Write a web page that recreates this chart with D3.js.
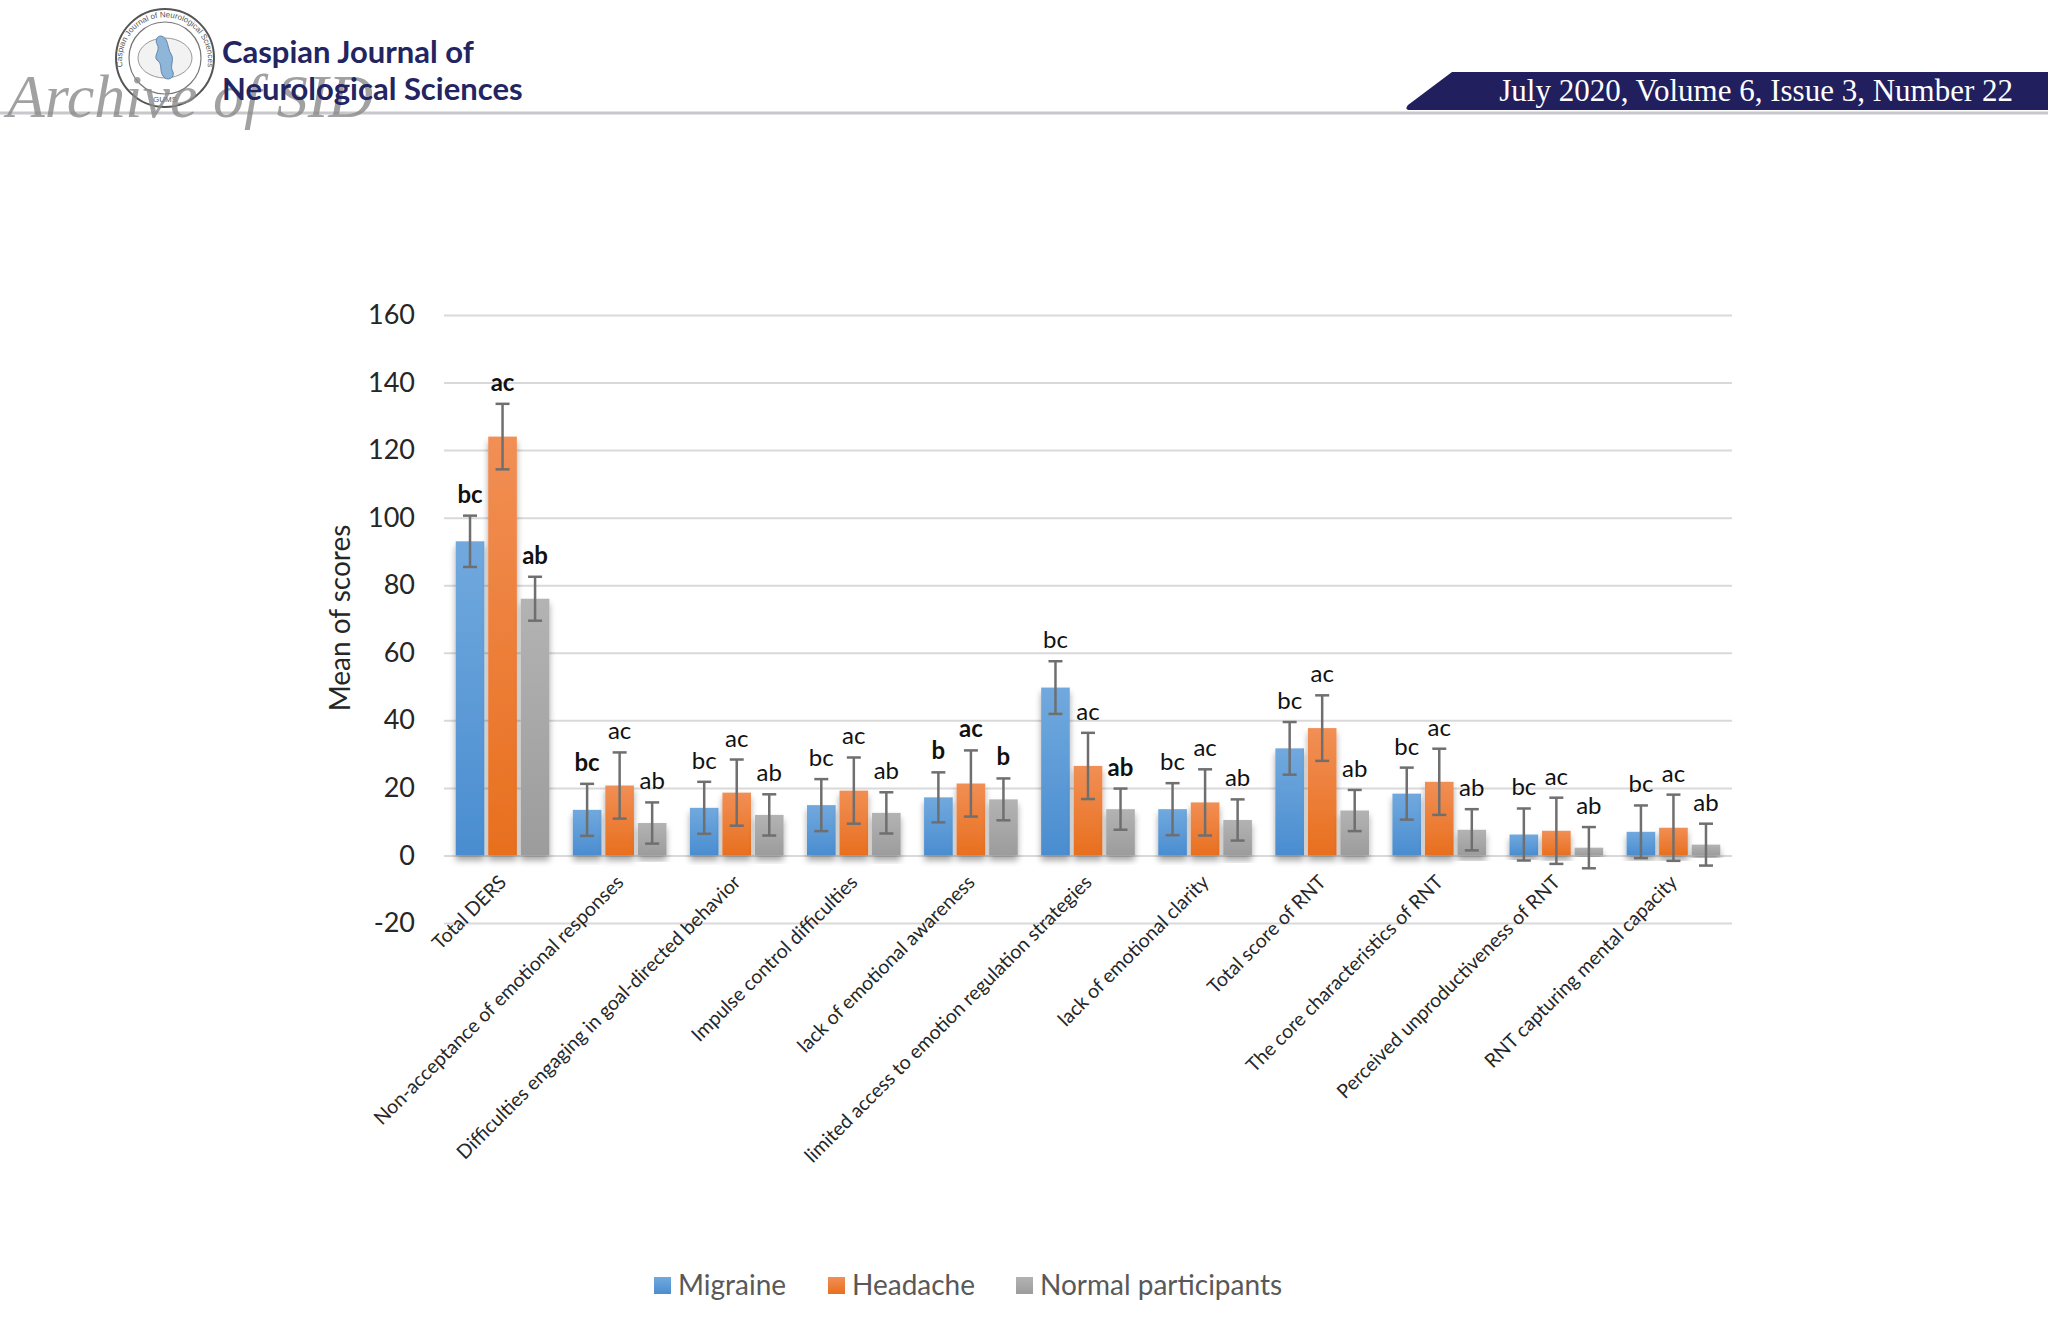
<!DOCTYPE html>
<html>
<head>
<meta charset="utf-8">
<script src="https://cdn.jsdelivr.net/npm/d3@7/dist/d3.min.js"></script>
<style>
  body { margin: 0; background: #fff; }
  svg { display: block; }
</style>
</head>
<body>
<svg id="page" width="2048" height="1322"></svg>
<script>
// categories and series
var categories = ["Total DERS", "Non-acceptance of emotional responses", "Difficulties engaging in goal-directed behavior",
  "Impulse control difficulties", "lack of emotional awareness", "limited access to emotion regulation strategies",
  "lack of emotional clarity", "Total score of RNT", "The core characteristics of RNT",
  "Perceived unproductiveness of RNT", "RNT capturing mental capacity"];
var groups = ["Migraine", "Headache", "Normal participants"];

var migraineMean = [93, 13.5, 14.1, 14.9, 17.2, 49.7, 13.7, 31.7, 18.3, 6.2, 7.0];
var migraineSD   = [7.6, 7.7, 7.7, 7.7, 7.4, 7.8, 7.7, 7.8, 7.7, 7.7, 7.8];
var headacheMean = [124, 20.7, 18.6, 19.2, 21.3, 26.5, 15.7, 37.7, 21.8, 7.3, 8.2];
var headacheSD   = [9.7, 9.8, 9.8, 9.8, 9.8, 9.8, 9.8, 9.7, 9.8, 9.8, 9.8];
var normalMean   = [76, 9.6, 12.0, 12.6, 16.6, 13.7, 10.5, 13.3, 7.6, 2.3, 3.2];
var normalSD     = [6.5, 6.1, 6.1, 6.1, 6.2, 6.1, 6.1, 6.1, 6.1, 6.1, 6.2];

var migraineLetters = ["bc", "bc", "bc", "bc", "b", "bc", "bc", "bc", "bc", "bc", "bc"];
var headacheLetters = ["ac", "ac", "ac", "ac", "ac", "ac", "ac", "ac", "ac", "ac", "ac"];
var normalLetters   = ["ab", "ab", "ab", "ab", "b", "ab", "ab", "ab", "ab", "ab", "ab"];
var migraineBold = [1, 1, 0, 0, 1, 0, 0, 0, 0, 0, 0];
var headacheBold = [1, 0, 0, 0, 1, 0, 0, 0, 0, 0, 0];
var normalBold   = [1, 0, 0, 0, 1, 1, 0, 0, 0, 0, 0];

var yTicks = [-20, 0, 20, 40, 60, 80, 100, 120, 140, 160];

var means = [migraineMean, headacheMean, normalMean];
var sds = [migraineSD, headacheSD, normalSD];
var letters = [migraineLetters, headacheLetters, normalLetters];
var bolds = [migraineBold, headacheBold, normalBold];

var svg = d3.select("#page");
var defs = svg.append("defs");

// ---------- header ----------
var head = svg.append("g").attr("class", "header");

head.append("line")
  .attr("x1", 0).attr("x2", 2048).attr("y1", 113).attr("y2", 113)
  .attr("stroke", "#c8c8cc").attr("stroke-width", 3);

head.append("path")
  .attr("d", "M1452,72 L2048,72 L2048,110 L1410,110 Q1404,110 1408,105 Z")
  .attr("fill", "#221f5e");
head.append("text")
  .attr("x", 2013).attr("y", 101)
  .attr("text-anchor", "end")
  .attr("font-family", "Liberation Serif, serif")
  .attr("font-size", 31)
  .attr("fill", "#fff")
  .text("July 2020, Volume 6, Issue 3, Number 22");

// logo
var logo = head.append("g").attr("transform", "translate(165,58)");
logo.append("circle").attr("r", 49).attr("fill", "#fff").attr("stroke", "#555").attr("stroke-width", 2);
logo.append("circle").attr("r", 36).attr("fill", "none").attr("stroke", "#777").attr("stroke-width", 1.2);
defs.append("path").attr("id", "logoArc").attr("d", "M-40,18 A43,43 0 1,1 40,18");
logo.append("text")
  .attr("font-family", "Liberation Sans, sans-serif").attr("font-size", 8).attr("fill", "#555")
  .append("textPath").attr("href", "#logoArc").attr("startOffset", "50%").attr("text-anchor", "middle")
  .text("Caspian Journal of Neurological Sciences");
logo.append("text").attr("y", 44).attr("text-anchor", "middle")
  .attr("font-family", "Liberation Sans, sans-serif").attr("font-size", 8).attr("fill", "#555").text("GUMS");
logo.append("ellipse").attr("rx", 27).attr("ry", 20).attr("fill", "#f2f2f2").attr("stroke", "#999").attr("stroke-width", 1);
logo.append("path")
  .attr("d", "M-4,-22 C4,-20 2,-10 6,-4 C10,2 4,8 8,14 C10,20 2,24 -2,18 C-6,12 -2,6 -8,2 C-12,-2 -4,-8 -8,-14 C-10,-18 -8,-22 -4,-22 Z")
  .attr("fill", "#8fb6d9").attr("stroke", "#5d86ad").attr("stroke-width", 1);

// watermark, overlapping the title as in the scan
head.append("text")
  .attr("x", 7).attr("y", 117)
  .attr("font-family", "Liberation Serif, serif").attr("font-style", "italic")
  .attr("font-size", 62).attr("fill", "#8a8a8a").attr("fill-opacity", 0.8)
  .text("Archive of SID");

head.append("text")
  .attr("x", 222).attr("y", 63)
  .attr("font-family", "Lato, sans-serif").attr("font-weight", 700)
  .attr("font-size", 31).attr("fill", "#232462")
  .text("Caspian Journal of");
head.append("text")
  .attr("x", 222).attr("y", 100)
  .attr("font-family", "Lato, sans-serif").attr("font-weight", 700)
  .attr("font-size", 31).attr("fill", "#232462")
  .text("Neurological Sciences");

// ---------- chart ----------
var plotLeft = 444, plotRight = 1732;
var y = d3.scaleLinear().domain([-20, 160]).range([923, 315]);

var x0 = d3.scaleBand().domain(categories).range([plotLeft, plotRight]).paddingInner(0.2).paddingOuter(0.1);
var x1 = d3.scaleBand().domain(groups).range([0, x0.bandwidth()]).paddingInner(0.12);

var colors = {
  "Migraine": ["#71a9de", "#4a8dd0"],
  "Headache": ["#f18f55", "#e86f1e"],
  "Normal participants": ["#b3b3b3", "#9c9c9c"]
};
groups.forEach(function(g, i) {
  var grad = defs.append("linearGradient").attr("id", "grad" + i)
    .attr("x1", 0).attr("x2", 0).attr("y1", 0).attr("y2", 1);
  grad.append("stop").attr("offset", "0%").attr("stop-color", colors[g][0]);
  grad.append("stop").attr("offset", "100%").attr("stop-color", colors[g][1]);
});
var shadow = defs.append("filter").attr("id", "shadow")
  .attr("x", "-30%").attr("y", "-10%").attr("width", "160%").attr("height", "130%");
shadow.append("feDropShadow").attr("dx", 0).attr("dy", 5).attr("stdDeviation", 3)
  .attr("flood-color", "#000").attr("flood-opacity", 0.35);

// gridlines
var grid = svg.append("g").attr("class", "grid")
  .attr("transform", "translate(" + plotLeft + ",0)")
  .call(d3.axisLeft(y).tickValues(yTicks).tickSize(-(plotRight - plotLeft)).tickFormat(""));
grid.select(".domain").remove();
grid.selectAll("line").attr("stroke", "#d9d9d9").attr("stroke-width", 2);

// y tick labels (plain hyphen for negatives, as in the original)
var yAxis = svg.append("g").attr("class", "y-axis")
  .attr("transform", "translate(415,0)")
  .call(d3.axisLeft(y).tickValues(yTicks).tickSize(0).tickPadding(0)
    .tickFormat(function(d) { return String(d); }));
yAxis.select(".domain").remove();
yAxis.selectAll("text")
  .attr("font-family", "Lato, sans-serif").attr("font-size", 27).attr("fill", "#262626");

svg.append("text")
  .attr("transform", "translate(350,618) rotate(-90)")
  .attr("text-anchor", "middle")
  .attr("font-family", "Lato, sans-serif").attr("font-size", 28).attr("fill", "#262626")
  .text("Mean of scores");

// rows for each bar
var rows = [];
categories.forEach(function(c, ci) {
  groups.forEach(function(g, gi) {
    rows.push({ cat: c, ci: ci, group: g, gi: gi, mean: means[gi][ci], sd: sds[gi][ci],
      letter: letters[gi][ci], bold: bolds[gi][ci] });
  });
});

var barG = svg.append("g").attr("class", "bars");
barG.selectAll("rect")
  .data(rows)
  .enter()
  .append("rect")
  .attr("x", function(d) { return x0(d.cat) + x1(d.group); })
  .attr("y", function(d) { return y(d.mean); })
  .attr("width", x1.bandwidth())
  .attr("height", function(d) { return y(0) - y(d.mean); })
  .attr("fill", function(d) { return "url(#grad" + d.gi + ")"; })
  .attr("filter", "url(#shadow)");

// error bars
var errG = svg.append("g").attr("class", "errors")
  .attr("stroke", "#6f6f6f").attr("stroke-width", 2.5);
var cap = 7;
rows.forEach(function(d) {
  var cx = x0(d.cat) + x1(d.group) + x1.bandwidth() / 2;
  var top = y(d.mean + d.sd), bot = y(d.mean - d.sd);
  errG.append("line").attr("x1", cx).attr("x2", cx).attr("y1", top).attr("y2", bot);
  errG.append("line").attr("x1", cx - cap).attr("x2", cx + cap).attr("y1", top).attr("y2", top);
  errG.append("line").attr("x1", cx - cap).attr("x2", cx + cap).attr("y1", bot).attr("y2", bot);
});

// letter labels
svg.append("g").attr("class", "letters")
  .selectAll("text")
  .data(rows)
  .enter()
  .append("text")
  .attr("x", function(d) { return x0(d.cat) + x1(d.group) + x1.bandwidth() / 2; })
  .attr("y", function(d) { return y(d.mean + d.sd) - 13; })
  .attr("text-anchor", "middle")
  .attr("font-family", "Lato, sans-serif")
  .attr("font-size", 24)
  .attr("font-weight", function(d) { return d.bold ? 700 : 400; })
  .attr("fill", "#111")
  .text(function(d) { return d.letter; });

// category labels
svg.append("g").attr("class", "x-labels")
  .selectAll("text")
  .data(categories)
  .enter()
  .append("text")
  .attr("transform", function(d) {
    return "translate(" + (x0(d) + x0.bandwidth() / 2 + 5) + "," + (y(0) + 28) + ") rotate(-45)";
  })
  .attr("text-anchor", "end")
  .attr("font-family", "Lato, sans-serif")
  .attr("font-size", 19.5)
  .attr("fill", "#262626")
  .text(function(d) { return d; });

// legend
var legendX = [654, 828, 1016];
var legend = svg.append("g").attr("class", "legend");
groups.forEach(function(g, i) {
  legend.append("rect")
    .attr("x", legendX[i]).attr("y", 1277).attr("width", 17).attr("height", 17)
    .attr("fill", "url(#grad" + i + ")");
  legend.append("text")
    .attr("x", legendX[i] + 24).attr("y", 1295)
    .attr("font-family", "Lato, sans-serif").attr("font-size", 28).attr("fill", "#595959")
    .text(g);
});
</script>
</body>
</html>
